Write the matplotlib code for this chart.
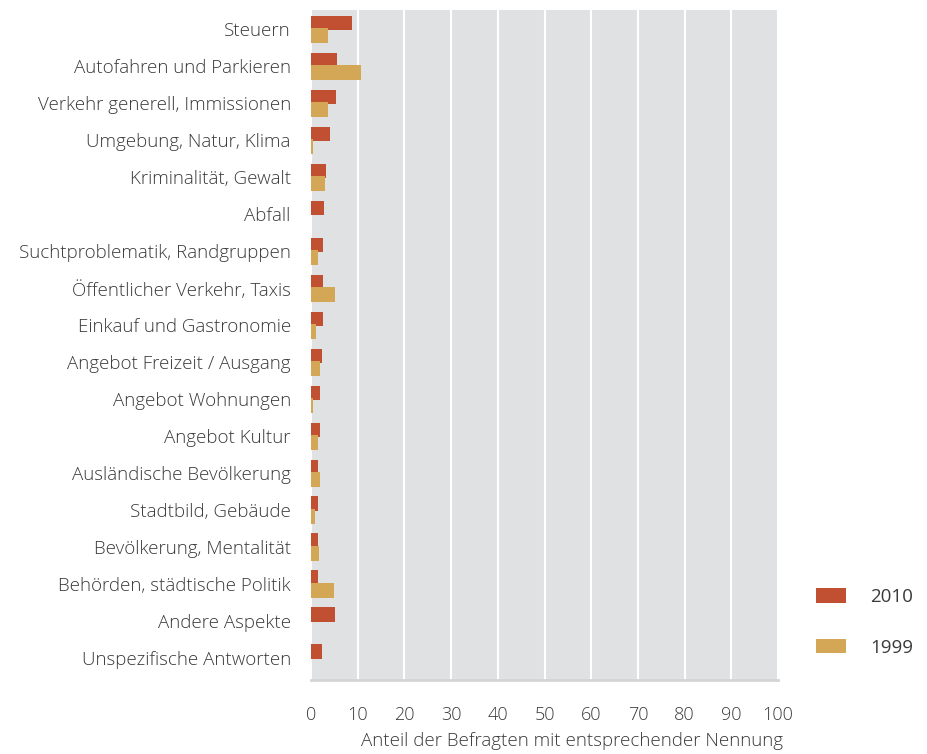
import matplotlib
matplotlib.use("Agg")
import matplotlib.pyplot as plt
from matplotlib.patches import Patch
import numpy as np

categories = [
    "Steuern",
    "Autofahren und Parkieren",
    "Verkehr generell, Immissionen",
    "Umgebung, Natur, Klima",
    "Kriminalität, Gewalt",
    "Abfall",
    "Suchtproblematik, Randgruppen",
    "Öffentlicher Verkehr, Taxis",
    "Einkauf und Gastronomie",
    "Angebot Freizeit / Ausgang",
    "Angebot Wohnungen",
    "Angebot Kultur",
    "Ausländische Bevölkerung",
    "Stadtbild, Gebäude",
    "Bevölkerung, Mentalität",
    "Behörden, städtische Politik",
    "Andere Aspekte",
    "Unspezifische Antworten",
]
values_2010 = [8.7, 5.6, 5.3, 4.1, 3.3, 2.8, 2.6, 2.6, 2.5, 2.3, 2.0, 1.9, 1.6, 1.6, 1.4, 1.4, 5.1, 2.3]
values_1999 = [3.6, 10.6, 3.6, 0.4, 2.9, 0.0, 1.6, 5.2, 1.1, 1.9, 0.4, 1.5, 1.9, 0.9, 1.7, 5.0, 0.0, 0.0]
series_labels = ["2010", "1999"]
x_ticks = [0, 10, 20, 30, 40, 50, 60, 70, 80, 90, 100]
x_label = "Anteil der Befragten mit entsprechender Nennung"

c2010 = "#c14f31"
c1999 = "#d4a757"
bg = "#e0e1e3"
txt = "#3a3a3a"

plt.rcParams['font.family'] = ['Open Sans', 'DejaVu Sans']

fig = plt.figure(figsize=(9.27, 7.54), dpi=100)
ax = fig.add_axes([311/927, 1-680/754, (778-311)/927, (680-10)/754])
ax.set_facecolor(bg)

y = np.arange(len(categories))
ax.barh(y - 0.17, values_2010, height=0.4, color=c2010, zorder=3)
ax.barh(y + 0.17, values_1999, height=0.41, color=c1999, zorder=3)

ax.set_xlim(0, 100)
ax.set_ylim(17.59, -0.52)
ax.set_xticks(x_ticks)
ax.set_xticklabels([str(t) for t in x_ticks], fontsize=13, color=txt, fontweight='light')
ax.set_yticks(y)
ax.set_yticklabels(categories, fontsize=13.5, color=txt, fontweight='light')
ax.tick_params(axis='both', length=0)
ax.tick_params(axis='y', pad=14.5)
ax.tick_params(axis='x', pad=18.5)
ax.grid(axis='x', color='white', linewidth=1.5, zorder=1)
ax.set_axisbelow(True)
for s in ['top', 'right', 'left']:
    ax.spines[s].set_visible(False)
ax.spines['bottom'].set_color('#d3d4d6')
ax.spines['bottom'].set_linewidth(2)

ax.set_xlabel(x_label, fontsize=13.5, color=txt, fontweight='light')
ax.xaxis.set_label_coords(1.01, -0.078)
ax.xaxis.label.set_horizontalalignment('right')

handles = [Patch(facecolor=c2010, edgecolor='none'), Patch(facecolor=c1999, edgecolor='none')]
fig.legend(handles, series_labels, loc='upper left',
           bbox_to_anchor=(816/927, 1-588/754), frameon=False,
           fontsize=13.5, handlelength=1.6, handleheight=0.8,
           handletextpad=1.3, labelspacing=1.75, borderpad=0, borderaxespad=0,
           labelcolor=txt)

fig.savefig("out.png", dpi=100)
